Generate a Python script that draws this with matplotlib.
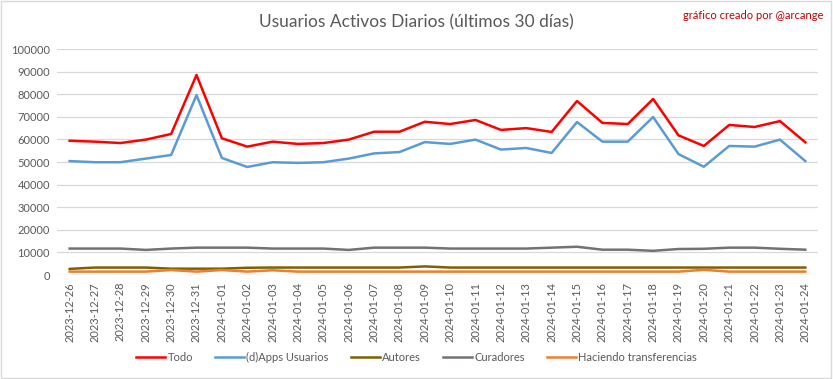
import matplotlib.pyplot as plt
import matplotlib
from matplotlib.patches import Rectangle

matplotlib.rcParams['font.family'] = ['Lato', 'DejaVu Sans']
matplotlib.rcParams['font.size'] = 8

fechas = ['2023-12-26', '2023-12-27', '2023-12-28', '2023-12-29', '2023-12-30', '2023-12-31',
          '2024-01-01', '2024-01-02', '2024-01-03', '2024-01-04', '2024-01-05', '2024-01-06',
          '2024-01-07', '2024-01-08', '2024-01-09', '2024-01-10', '2024-01-11', '2024-01-12',
          '2024-01-13', '2024-01-14', '2024-01-15', '2024-01-16', '2024-01-17', '2024-01-18',
          '2024-01-19', '2024-01-20', '2024-01-21', '2024-01-22', '2024-01-23', '2024-01-24']

todo = [59400, 59000, 58400, 59900, 62400, 88500, 60500, 56800, 59000, 58000,
        58400, 59900, 63400, 63400, 67800, 66800, 68600, 64200, 65000, 63300,
        77000, 67300, 66800, 77900, 61800, 57100, 66400, 65500, 68100, 58700]
dapps = [50400, 49900, 49900, 51500, 53100, 79600, 51800, 47800, 49900, 49600,
         49900, 51500, 53800, 54400, 58800, 58000, 59900, 55500, 56200, 54000,
         67700, 59000, 59000, 69900, 53500, 47900, 57100, 56800, 59900, 50400]
autores = [2700, 3300, 3300, 3300, 2800, 2800, 2800, 3200, 3300, 3300,
           3300, 3300, 3300, 3300, 3800, 3300, 3300, 3300, 3300, 3300,
           3300, 3300, 3300, 3300, 3300, 3300, 3300, 3300, 3300, 3300]
curadores = [11700, 11700, 11700, 11100, 11700, 12100, 12100, 12100, 11700, 11700,
             11700, 11100, 12100, 12100, 12100, 11700, 11700, 11700, 11700, 12100,
             12500, 11200, 11200, 10700, 11500, 11600, 12100, 12100, 11600, 11200]
transfer = [1500, 1500, 1500, 1500, 2200, 1500, 2200, 1500, 2100, 1500,
            1500, 1500, 1500, 1500, 1500, 1500, 1500, 1500, 1500, 1500,
            1500, 1500, 1500, 1500, 1500, 2300, 1500, 1500, 1500, 1500]

series = [('Todo', todo, '#FF0000'),
          ('(d)Apps Usuarios', dapps, '#5B9BD5'),
          ('Autores', autores, '#7F6000'),
          ('Curadores', curadores, '#767171'),
          ('Haciendo transferencias', transfer, '#ED7D31')]

fig = plt.figure(figsize=(8.33, 3.79), dpi=100)
ax = fig.add_axes([0.0684, 0.2744, 0.9136, 0.5963])

x = range(len(fechas))
for nombre, vals, color in series:
    ax.plot(x, vals, color=color, linewidth=1.8, label=nombre)

ax.set_xlim(-0.5, len(fechas) - 0.5)
ax.set_ylim(0, 100000)
ax.set_yticks(range(0, 100001, 10000))
ax.set_xticks(list(x))
ax.set_xticklabels(fechas, rotation=90)
ax.grid(axis='y', color='#D9D9D9', linewidth=0.9)
ax.set_axisbelow(True)
for s in ax.spines.values():
    s.set_visible(False)
ax.tick_params(length=0, colors='#595959', labelsize=8, pad=5)

fig.text(0.5, 0.942, 'Usuarios Activos Diarios (últimos 30 días)', ha='center', va='center',
         fontsize=12.5, color='#595959')
fig.text(0.988, 0.96, 'gráfico creado por @arcange', ha='right', va='center',
         fontsize=8, color='#C00000')

fig.legend(loc='center', bbox_to_anchor=(0.5, 0.058), ncol=5, frameon=False,
           fontsize=8, handlelength=2.6, handletextpad=0.2, columnspacing=2.0,
           labelcolor='#595959')

fig.patches.append(Rectangle((0.001, 0.002), 0.997, 0.995, transform=fig.transFigure,
                             fill=False, edgecolor='#D9D9D9', linewidth=1))

fig.savefig('out.png', dpi=100)
